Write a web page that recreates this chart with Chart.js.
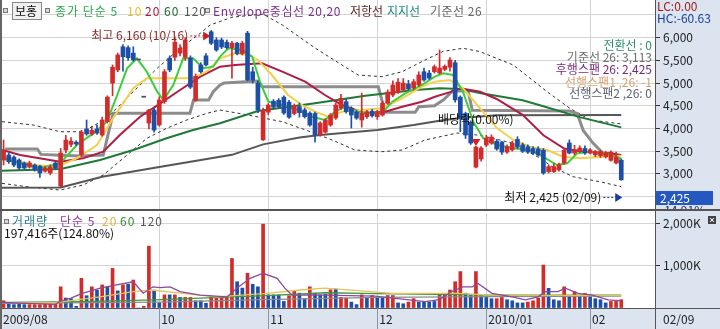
<!DOCTYPE html>
<html>
<head>
<meta charset="utf-8">
<script src="https://cdn.jsdelivr.net/npm/chart.js@4.4.1/dist/chart.umd.min.js"></script>
<style>
  html, body { margin: 0; padding: 0; background: #fff; }
  #wrap { position: relative; width: 720px; height: 329px; overflow: hidden; }
  canvas { position: absolute; left: 0; }
  #price { top: 0; }
  #vol { top: 211px; }
</style>
</head>
<body>
<div id="wrap">
  <canvas id="price" width="720" height="211"></canvas>
  <canvas id="vol" width="720" height="118"></canvas>
</div>
<script>
const FONT = '"Noto Sans CJK KR", "Noto Sans", sans-serif';
const UP = "#d32a2a";
const DOWN = "#1d4fa6";
const FLAT = "#555555";
const GRID = "#d4d4d4";
const PANEL = "#dbe4ef";
const fmt = new Intl.NumberFormat("en-US");

// daily candles 2009/08/20 .. 2010/02/09, index 0..119
const opens = [3306,3416,3370,3306,3240,3150,3196,3170,3060,3020,
  3240,2730,3526,3650,3700,3416,3990,3880,3990,3856,
  4150,5000,5290,5800,5780,5660,5510,4690,4120,4407,
  4077,4590,5550,5570,5660,5570,5550,4620,5400,5600,
  6130,5950,5949,5900,5780,5880,5650,6100,5250,5000,
  3750,4360,4600,4620,4690,4580,4330,4480,4410,4340,
  4330,3860,3920,4077,4230,4450,4590,4450,4360,4187,
  4260,4380,4260,4297,4555,4738,4800,4850,4980,4890,
  4958,5251,5220,5250,5220,5300,5350,5450,4690,4330,
  4140,3150,3330,3636,3680,3720,3700,3480,3530,3760,
  3640,3600,3560,3550,3520,3050,3050,3090,3240,3680,
  3460,3500,3560,3460,3420,3400,3380,3300,3240,3300];
const highs = [3746,3460,3400,3330,3260,3280,3220,3190,3160,3200,
  3260,3560,3850,3800,3730,3960,4187,4050,4080,4250,
  4720,5400,5660,5850,5820,5800,5510,4690,4420,4450,
  4700,5300,5600,6020,5850,6000,5600,5200,5450,5650,
  6160,6000,5990,5950,5920,5900,5920,6140,5350,5050,
  4450,4550,4640,4660,4720,4620,4540,4560,4450,4370,
  4360,4150,4220,4330,4560,4750,4650,4480,4400,4780,
  4400,4420,4400,4600,4850,5050,5100,5100,5060,5080,
  5250,5330,5280,5400,5730,5400,5560,5500,4720,4360,
  4170,3610,3600,3850,3860,3760,3720,3640,3720,3820,
  3680,3640,3600,3600,3560,3200,3230,3240,3560,3750,
  3630,3620,3620,3560,3520,3520,3500,3510,3480,3330];
const lows = [3196,3230,3160,3100,3100,3130,3060,2920,3040,2980,
  3110,2720,3460,3600,3620,3380,3850,3850,3870,3830,
  4120,4720,5250,5260,5500,5480,5510,4690,3990,3920,
  4050,4550,5250,5500,5600,5500,4880,4600,5220,5380,
  5850,5700,5760,5750,5110,5620,5620,5050,5000,4350,
  3740,4300,4440,4450,4310,4220,4300,4250,4230,4050,
  3700,3830,3900,4050,4200,4420,4340,4010,4200,4030,
  4220,4250,4200,4270,4530,4700,4770,4820,4840,4860,
  4930,5040,5080,5220,5200,5270,5260,4580,3930,3780,
  3650,3130,3280,3600,3650,3520,3430,3450,3500,3560,
  3470,3450,3430,3390,2990,3020,3030,3060,3210,3440,
  3420,3470,3430,3440,3380,3360,3350,3280,3220,2860];
const closes = [3526,3270,3196,3130,3130,3240,3085,3020,3130,3150,
  3130,3460,3746,3720,3660,3920,3880,3960,3900,4187,
  4690,5350,5620,5580,5560,5510,5510,4690,4407,3966,
  4628,5250,5290,5900,5770,5950,4910,5150,5250,5400,
  5877,5729,5795,5780,5880,5650,5880,5070,5068,4407,
  4400,4517,4470,4480,4340,4250,4500,4350,4260,4077,
  3860,4120,4187,4297,4517,4665,4370,4297,4230,4334,
  4370,4280,4370,4555,4800,4958,5020,5000,4870,5030,
  5178,5068,5110,5360,5330,5370,5509,4630,4230,3856,
  3680,3590,3570,3790,3810,3550,3480,3600,3680,3590,
  3500,3480,3460,3420,3020,3160,3160,3200,3520,3460,
  3530,3570,3460,3530,3490,3490,3460,3480,3370,2870];

// volume in thousands of shares, and bar colour (1 red, 0 blue)
const volumesK = [172,110,80,100,80,80,80,80,90,90,
  90,500,235,220,40,700,290,500,420,545,
  500,935,405,545,560,660,0,40,1460,420,
  120,310,310,310,250,250,250,170,170,110,
  280,250,250,250,1170,620,470,820,560,500,
  1980,310,310,310,155,290,400,350,220,500,
  350,310,320,430,450,250,235,140,80,310,
  235,295,250,250,295,295,120,100,140,220,
  140,140,140,155,310,300,425,620,860,350,
  295,860,290,250,220,220,250,195,170,120,
  120,140,170,235,1015,465,195,170,500,270,
  385,270,345,310,220,195,120,155,155,197.4];
const volUp = [1,0,0,0,0,1,1,1,1,1, 1,1,0,0,0,1,0,1,0,1,
  0,1,0,1,0,1,1,1,1,0, 0,1,0,1,0,1,1,0,0,0,
  1,1,1,1,1,0,0,1,0,0, 1,0,0,0,0,1,1,0,0,1,
  0,0,0,1,0,1,1,0,0,1, 0,1,0,0,1,1,0,0,1,1,
  0,0,0,0,1,1,1,1,1,0, 0,1,0,0,0,1,1,0,0,0,
  0,1,1,1,1,0,0,0,1,0, 1,0,1,0,0,0,0,1,1,1];

const monthTicks = [0, 30, 51, 72, 93, 113];
const monthLabels = ["2009/08", "10", "11", "12", "2010/01", "02"];
const priceTicks = [2500, 3000, 3500, 4000, 4500, 5000, 5500, 6000, 6500];
const volumeTicks = [0, 1000, 2000];

// indicator lines: [day index, value]
const ma5 = [[-0.3,3343],[3.2,3233],[7,3123],[10.9,3233],[14.1,3636],[17.3,3893],[19.9,4150],[21.9,4738],[23.8,5326],[25.7,5546],[27.6,5251],[29.6,4811],[30.8,4628],[32.7,4958],[34.6,5546],[36.5,5546],[38.5,5326],[40.4,5361],[41.7,5582],[43.3,5767],[46,5729],[47.9,5582],[49.4,5031],[51,4590],[53.7,4517],[56.7,4407],[59.4,4260],[61.9,4187],[63.9,4370],[65.8,4480],[67.7,4370],[71,4334],[72.9,4334],[74.9,4590],[77.4,4775],[80.6,4958],[83.1,5141],[84.7,5215],[86.6,5178],[88.5,4811],[90.5,4150],[92.4,3784],[95.1,3636],[98.2,3563],[101.4,3526],[103.9,3379],[106.6,3196],[108.6,3233],[110.5,3453],[113,3489],[116.3,3450],[119,3334]];
const ma10 = [[-0.3,3379],[5.7,3196],[10.3,3158],[14.1,3343],[18,3636],[21.1,4225],[25,4885],[27.6,5106],[32.7,5106],[36.5,5106],[39.1,5251],[41.7,5546],[44.6,5656],[47.1,5620],[49,5509],[51.7,5178],[54.8,4738],[57.5,4517],[60,4370],[62.5,4260],[65.2,4370],[69.1,4407],[72.9,4444],[76.8,4665],[80.6,4921],[83.1,5031],[86,5068],[88.5,4885],[91.8,4444],[95.1,4004],[98.2,3747],[101.4,3599],[104.7,3526],[107.8,3379],[111.1,3343],[115.5,3379],[119,3400]];
const ma20 = [[-0.3,3526],[3.2,3416],[10.9,3268],[15.3,3343],[19.2,3489],[22.4,3856],[26.3,4260],[30.2,4555],[34,4848],[37.9,5141],[41.7,5361],[44.6,5398],[49.8,5435],[53.7,5251],[58.1,5031],[61.9,4738],[65.2,4517],[69.7,4334],[73.5,4370],[76.8,4480],[80.6,4590],[83.1,4700],[86,4800],[88,4885],[91.8,4810],[95,4650],[100,4300],[104,3850],[108,3560],[111.7,3489],[116.9,3453],[119,3416]];
const ma60 = [[-0.3,3070],[11,3108],[18.6,3306],[25,3526],[31.4,3784],[36.5,3967],[41.7,4114],[49,4385],[60,4555],[69.7,4722],[79.3,4848],[84,4885],[88,4870],[92,4775],[100,4620],[104,4490],[111,4250],[119,4025]];
const ma120 = [[-0.3,2696],[11,2700],[19,2938],[30,3150],[38,3306],[44,3420],[50,3650],[57,3800],[61,3856],[72,3967],[79,4077],[84,4170],[88,4230],[95,4290],[119,4300]];
const envUpper = [[-0.3,4150],[5.7,4077],[10.9,3929],[15.3,3929],[19.9,4225],[25,4811],[29.6,5326],[34,5767],[37.9,6097],[39.8,6280],[44,6450],[50,6520],[53.7,6280],[60,5773],[65.2,5398],[68.3,5178],[72.9,5141],[76.8,5251],[81.2,5509],[84.7,5700],[88.5,5767],[91.8,5693],[98.2,5398],[104.7,4811],[109.1,4444],[113,4190],[119,4100]];
const envLower = [[-0.3,2792],[5.7,2700],[10.9,2645],[15.3,2755],[19.2,2975],[23.8,3416],[27.6,3784],[31.4,4004],[35.3,4187],[39.2,4334],[41.7,4407],[47.1,4297],[53.7,4150],[60,3893],[63.3,3747],[67.7,3526],[72.9,3489],[76.8,3526],[81.2,3747],[87.4,3900],[91.8,3850],[98.2,3674],[103.4,3343],[105.7,3158],[109.7,2938],[114.9,2828],[119,2718]];
const kijun = [[0.3,3548],[6.5,3548],[7.2,3430],[11,3410],[14.7,3394],[19.2,3416],[21.1,4334],[35.9,4334],[36.6,4628],[39.5,4628],[40.4,4811],[41.7,4958],[42.5,5000],[49,5046],[49.8,4921],[72.2,4921],[73.5,4357],[79.3,4357],[80,4480],[83,4500],[84.7,4628],[86.5,4826],[89.5,4826],[90.3,4400],[109.1,4385],[110.5,4330],[111.7,3950],[113.6,3673],[115.5,3453],[118,3400],[119.2,3150]];
const vma5 = [[-0.3,130],[10,85],[11,165],[13,235],[15,340],[18.6,470],[21.5,540],[25,620],[26.9,350],[28.8,500],[30.2,480],[32.1,500],[34,385],[37.9,306],[43.1,265],[45,470],[47.5,700],[50,820],[52.7,700],[54.2,470],[55.6,300],[59.1,310],[62,306],[71.6,280],[81.2,150],[84,200],[86.5,400],[88.5,500],[90.3,500],[91.4,580],[94.1,345],[98,265],[100.5,190],[103,265],[104.3,385],[106.8,385],[108.2,470],[110.7,345],[113.4,306],[116.5,190],[119,170]];
const vma20 = [[-0.3,125],[10,125],[18.6,265],[25,385],[28.6,425],[34,350],[41,265],[50.7,345],[57.1,425],[62,470],[75,345],[87.5,345],[94,306],[119,290]];
const vma60 = [[-0.3,135],[15,150],[29,190],[50.7,290],[62,360],[72,340],[94,306],[119,306]];
const vma120 = [[-0.3,110],[30,140],[50,200],[72,250],[94,270],[119,280]];

// header legend: text, colour, x, letter spacing
const header = [
  ["종가 단순 5", "#2aa84a", 55, 1], ["10", "#e2bf2c", 127, 1], ["20", "#a3183c", 145, 1],
  ["60", "#1d6b2d", 164, 1], ["120", "#555555", 184, 1], ["Envelope중심선 20,20", "#7b2d8b", 213, 0.6],
  ["저항선", "#5a1a1a", 350, 0], ["지지선", "#1f8a80", 387, 0], ["기준선 26", "#666666", 430, 0.5],
];
const ichimokuText = [
  ["전환선 : 0", "#2b8f6e", 45], ["기준선 26: 3,113", "#6e6e6e", 57],
  ["후행스팬 26: 2,425", "#7a2878", 69], ["선행스팬1 ,26: -1", "#d6a26a", 82],
  ["선행스팬2 ,26: 0", "#5a6275", 93],
];
const volHeader = [
  ["거래량", "#2b7f8f", 12], ["단순 5", "#8a3a9a", 60], ["20", "#d9b43a", 102],
  ["60", "#3a8a3a", 120], ["120", "#555555", 140],
];

const X_MIN = -0.3;
const X_MAX = 125.5;
const idx = closes.map((_, i) => i);
const pts = (arr) => arr.map(([x, y]) => ({ x, y }));
const candleColor = idx.map((i) => (closes[i] > opens[i] ? UP : closes[i] < opens[i] ? DOWN : FLAT));

function xAxis(height) {
  return {
    type: "linear", min: X_MIN, max: X_MAX, offset: false,
    afterBuildTicks: (s) => { s.ticks = monthTicks.slice(1).map((v) => ({ value: v })); },
    ticks: { display: false },
    grid: { color: GRID, drawTicks: false, offset: false },
    border: { display: false },
    afterFit: (s) => { s.height = height; s.paddingLeft = 0; s.paddingRight = 0; },
  };
}

function yAxis(min, max, ticks, labelFn) {
  return {
    position: "right", min, max, beginAtZero: false,
    afterBuildTicks: (s) => { s.ticks = ticks.map((v) => ({ value: v })); },
    afterFit: (s) => { s.width = 65; s.paddingTop = 0; s.paddingBottom = 0; },
    ticks: { callback: labelFn, color: "#222", font: { family: FONT, size: 12 }, padding: 3 },
    grid: {
      color: GRID, tickLength: 5,
      tickColor: (c) => (c.tick && labelFn(c.tick.value) === "" && c.tick.value !== 0 ? "rgba(0,0,0,0)" : "#333"),
    },
    border: { display: false },
  };
}

function line(data, color, width, extra) {
  return Object.assign({ type: "line", data: pts(data), borderColor: color, borderWidth: width, pointRadius: 0, tension: 0, order: 5 }, extra || {});
}

function text(ctx, s, x, y, color, align) {
  ctx.fillStyle = color;
  ctx.textAlign = align || "left";
  ctx.textBaseline = "middle";
  ctx.fillText(s, x, y);
}

function square(ctx, x, y) {
  ctx.fillStyle = "#d8d8d8";
  ctx.fillRect(x, y, 5, 5);
  ctx.strokeStyle = "#777";
  ctx.lineWidth = 1;
  ctx.strokeRect(x + 0.5, y + 0.5, 4, 4);
}

function arrowRight(ctx, x0, x1, y, color) {
  ctx.strokeStyle = color;
  ctx.lineWidth = 1;
  ctx.setLineDash([2, 2]);
  ctx.beginPath(); ctx.moveTo(x0, y + 0.5); ctx.lineTo(x1 - 6, y + 0.5); ctx.stroke();
  ctx.setLineDash([]);
  ctx.fillStyle = color;
  ctx.beginPath(); ctx.moveTo(x1 - 7, y - 4); ctx.lineTo(x1, y + 0.5); ctx.lineTo(x1 - 7, y + 5); ctx.closePath(); ctx.fill();
}

const priceDecor = {
  id: "priceDecor",
  beforeDraw(chart) {
    const { ctx, chartArea: a, width, height } = chart;
    ctx.save();
    ctx.fillStyle = "#fff"; ctx.fillRect(0, 0, width, height);
    ctx.fillStyle = PANEL; ctx.fillRect(a.right, 0, width - a.right, height);
    ctx.restore();
  },
  afterDraw(chart) {
    const { ctx, chartArea: a, width, height } = chart;
    const xs = chart.scales.x, ys = chart.scales.y;
    ctx.save();
    ctx.font = `12px ${FONT}`;
    // header legend
    square(ctx, 3, 8);
    ctx.fillStyle = "#efefef"; ctx.fillRect(12, 2, 30, 18);
    ctx.strokeStyle = "#888"; ctx.strokeRect(12.5, 2.5, 29, 17);
    text(ctx, "보홍", 15, 11, "#111");
    square(ctx, 45, 8);
    square(ctx, 205, 8);
    header.forEach(([s, c, x, sp]) => {
      ctx.letterSpacing = sp + "px";
      text(ctx, s, x, 11, c);
    });
    ctx.letterSpacing = "0px";
    // ichimoku values
    ichimokuText.forEach(([s, c, y]) => text(ctx, s, 652, y, c, "right"));
    // highest / lowest marks
    const hx = xs.getPixelForValue(40), hy = ys.getPixelForValue(6160) + 5;
    text(ctx, "최고 6,160 (10/16)", hx - 23, hy, "#8a2a2a", "right");
    arrowRight(ctx, hx - 21, hx - 1, hy, "#c82020");
    const lx = xs.getPixelForValue(119), ly = ys.getPixelForValue(2425) - 3;
    text(ctx, "최저 2,425 (02/09)", lx - 20, ly, "#111", "right");
    arrowRight(ctx, lx - 18, lx + 1, ly, "#1a3ca0");
    // ex-dividend marker
    text(ctx, "배당락(0.00%)", 438, 119, "#111");
    const dx = xs.getPixelForValue(91);
    ctx.fillStyle = "#d42020";
    ctx.beginPath(); ctx.moveTo(dx - 4.5, 139); ctx.lineTo(dx + 4.5, 139); ctx.lineTo(dx, 146); ctx.closePath(); ctx.fill();
    // right panel texts
    text(ctx, "LC:0.00", 657, 6, "#9a1a1a");
    text(ctx, "HC:-60.63", 657, 18, "#1a3c9a");
    const py = ys.getPixelForValue(2425) - 2;
    ctx.fillStyle = "#2458c0"; ctx.fillRect(656, py - 7, 57, 14);
    text(ctx, "2,425", 660, py, "#fff");
    text(ctx, "-14.91%", 660, py + 12, "#1a2a6a");
    // frame
    ctx.strokeStyle = "#555"; ctx.lineWidth = 1;
    ctx.beginPath(); ctx.moveTo(a.right + 0.5, 0); ctx.lineTo(a.right + 0.5, height); ctx.stroke();
    ctx.fillStyle = "#666"; ctx.fillRect(0, 0, 2, height);
    ctx.fillStyle = "#555"; ctx.fillRect(0, height - 2, width, 2);
    ctx.restore();
  },
};

const volDecor = {
  id: "volDecor",
  beforeDraw(chart) {
    const { ctx, chartArea: a, width, height } = chart;
    ctx.save();
    ctx.fillStyle = "#fff"; ctx.fillRect(0, 0, width, height);
    ctx.fillStyle = PANEL;
    ctx.fillRect(a.right, 0, width - a.right, height);
    ctx.fillRect(0, a.bottom, width, height - a.bottom);
    ctx.restore();
  },
  afterDraw(chart) {
    const { ctx, chartArea: a, width, height } = chart;
    const xs = chart.scales.x;
    ctx.save();
    ctx.font = `12px ${FONT}`;
    square(ctx, 4, 8);
    ctx.letterSpacing = "1px";
    volHeader.forEach(([s, c, x]) => text(ctx, s, x, 10, c));
    ctx.letterSpacing = "0px";
    text(ctx, "197,416주(124.80%)", 4, 22, "#111");
    // close icon
    ctx.fillStyle = "#444"; ctx.fillRect(708, 5, 8, 8);
    ctx.strokeStyle = "#fff"; ctx.lineWidth = 1;
    ctx.beginPath(); ctx.moveTo(710, 7); ctx.lineTo(714, 11); ctx.moveTo(714, 7); ctx.lineTo(710, 11); ctx.stroke();
    // date band
    ctx.strokeStyle = "#555";
    ctx.beginPath(); ctx.moveTo(0, a.bottom + 0.5); ctx.lineTo(width, a.bottom + 0.5); ctx.stroke();
    ctx.strokeStyle = "#8a96a4";
    monthTicks.forEach((v, k) => {
      const px = xs.getPixelForValue(v);
      if (k > 0) {
        ctx.beginPath(); ctx.moveTo(Math.round(px) + 0.5, a.bottom); ctx.lineTo(Math.round(px) + 0.5, height); ctx.stroke();
      }
      text(ctx, monthLabels[k], k === 0 ? 3 : px + 2, a.bottom + 11, "#222");
    });
    text(ctx, "02/09", 663, a.bottom + 11, "#222");
    ctx.strokeStyle = "#555";
    ctx.beginPath(); ctx.moveTo(a.right + 0.5, 0); ctx.lineTo(a.right + 0.5, height); ctx.stroke();
    ctx.fillStyle = "#666"; ctx.fillRect(0, 0, 2, height);
    ctx.restore();
  },
};

const common = {
  responsive: false,
  animation: false,
  events: [],
  plugins: { legend: { display: false }, tooltip: { enabled: false } },
};

new Chart(document.getElementById("price"), {
  type: "bar",
  data: {
    datasets: [
      line(envUpper, "#333", 1, { borderDash: [3, 3], order: 9 }),
      line(envLower, "#333", 1, { borderDash: [3, 3], order: 9 }),
      line(ma120, "#565656", 2, { order: 8 }),
      line(kijun, "#8c8c8c", 3, { order: 7 }),
      line(ma60, "#1f7a36", 2, { order: 6 }),
      line(ma20, "#b01c45", 2, { order: 5 }),
      line(ma10, "#f2d04a", 2, { order: 4 }),
      line(ma5, "#39cf39", 2, { order: 3 }),
      {
        data: idx.map((i) => ({ x: i, y: [lows[i], highs[i]] })),
        backgroundColor: candleColor, barThickness: 1, grouped: false, order: 1,
      },
      {
        data: idx.map((i) => ({ x: i, y: [Math.min(opens[i], closes[i]), Math.max(opens[i], closes[i])] })),
        backgroundColor: candleColor, barThickness: 4, minBarLength: 1, grouped: false, order: 0,
      },
    ],
  },
  options: Object.assign({}, common, {
    layout: { padding: { left: 2, right: 0, top: 0, bottom: 0 } },
    scales: {
      x: xAxis(0),
      y: yAxis(2183, 6830, priceTicks, (v) => (v >= 3000 && v <= 6000 ? fmt.format(v) : "")),
    },
  }),
  plugins: [priceDecor],
});

new Chart(document.getElementById("vol"), {
  type: "bar",
  data: {
    datasets: [
      {
        data: idx.map((i) => ({ x: i, y: volumesK[i] })),
        backgroundColor: idx.map((i) => (volUp[i] ? UP : DOWN)),
        barThickness: 3, grouped: false, order: 5,
      },
      line(vma120, "#8a8a8a", 1.3, { order: 4 }),
      line(vma60, "#3f9a3f", 1.3, { order: 3 }),
      line(vma20, "#e6c25a", 1.3, { order: 2 }),
      line(vma5, "#8b4a9c", 1.3, { order: 1 }),
    ],
  },
  options: Object.assign({}, common, {
    layout: { padding: { left: 2, right: 0, top: 2, bottom: 0 } },
    scales: {
      x: xAxis(21),
      y: yAxis(0, 2243, volumeTicks, (v) => (v > 0 ? fmt.format(v) + "K" : "")),
    },
  }),
  plugins: [volDecor],
});
</script>
</body>
</html>
